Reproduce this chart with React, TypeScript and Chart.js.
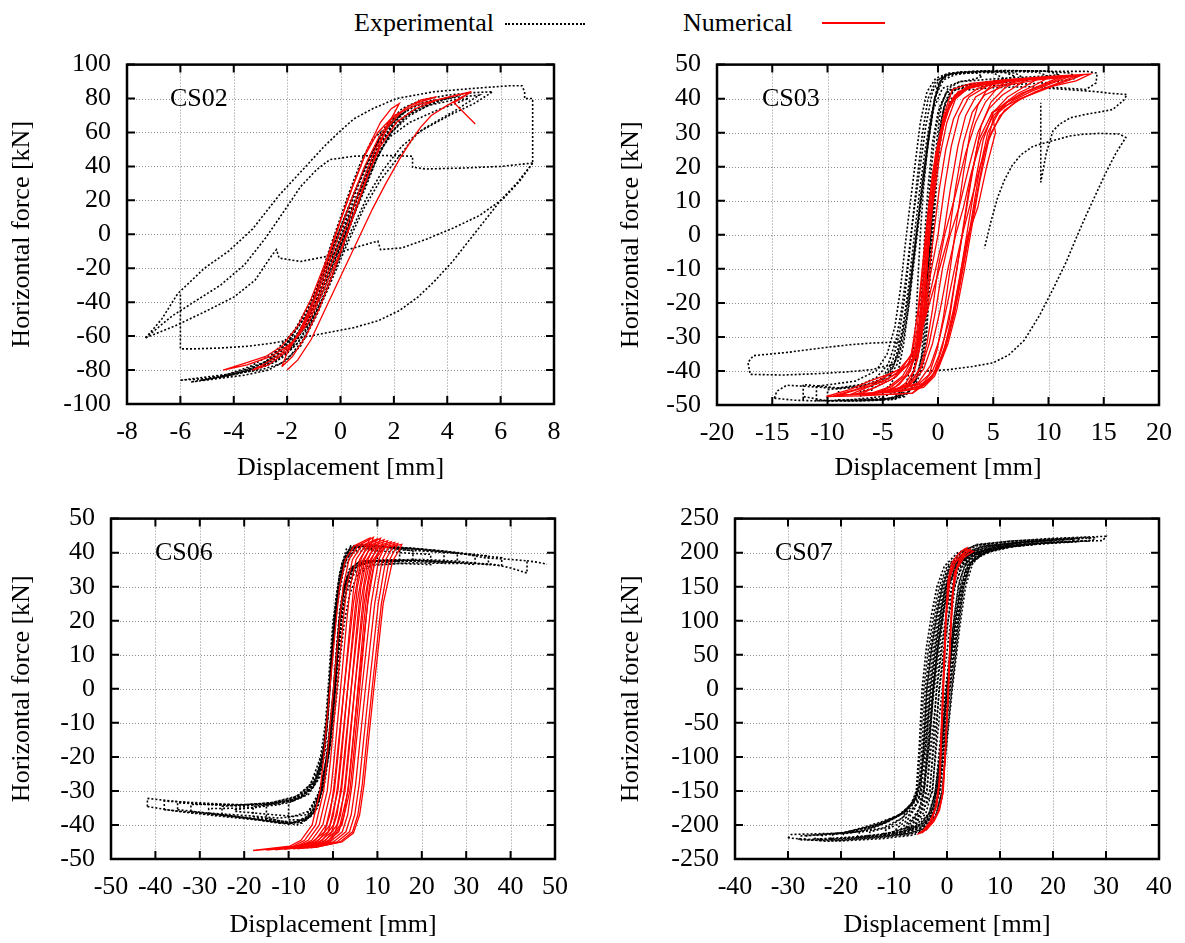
import React, { useEffect, useRef } from "react";
import { Chart, registerables } from "chart.js";
Chart.register(...registerables);

type Pt = [number, number];

const FONT = '"Liberation Serif", "Times New Roman", serif';

// ---------- tick labels ----------
const cs02XTicks = [-8, -6, -4, -2, 0, 2, 4, 6, 8];
const cs02YTicks = [-100, -80, -60, -40, -20, 0, 20, 40, 60, 80, 100];
const cs03XTicks = [-20, -15, -10, -5, 0, 5, 10, 15, 20];
const cs03YTicks = [-50, -40, -30, -20, -10, 0, 10, 20, 30, 40, 50];
const cs06XTicks = [-50, -40, -30, -20, -10, 0, 10, 20, 30, 40, 50];
const cs06YTicks = [-50, -40, -30, -20, -10, 0, 10, 20, 30, 40, 50];
const cs07XTicks = [-40, -30, -20, -10, 0, 10, 20, 30, 40];
const cs07YTicks = [-250, -200, -150, -100, -50, 0, 50, 100, 150, 200, 250];

// ---------- CS02 ----------
const cs02ExpA: Pt[] = [[-1.3,-55],[-1.0,-48],[-0.6,-36],[-0.2,-20],[0.2,-2],[0.6,16],[1.0,34],[1.3,50],[1.5,60],[1.2,56],[0.8,44],[0.4,28],[0,10],[-0.4,-8],[-0.8,-28],[-1.1,-44],[-1.3,-55]];
const cs02ExpB: Pt[] = [[-2.0,-70],[-1.6,-64],[-1.1,-52],[-0.6,-36],[-0.1,-16],[0.3,2],[0.7,20],[1.1,38],[1.5,54],[1.9,64],[2.4,72],[2.0,68],[1.5,58],[1.0,42],[0.5,24],[0,4],[-0.5,-16],[-0.9,-34],[-1.3,-50],[-1.7,-62],[-2.0,-70]];
const cs02ExpC: Pt[] = [[-3.0,-78],[-2.4,-74],[-1.8,-66],[-1.3,-54],[-0.8,-38],[-0.3,-18],[0.2,2],[0.6,20],[1.0,38],[1.5,56],[2.0,68],[2.7,75],[3.5,79],[3.0,77],[2.3,71],[1.7,62],[1.2,48],[0.7,30],[0.2,10],[-0.3,-10],[-0.8,-30],[-1.3,-48],[-1.9,-62],[-2.5,-72],[-3.0,-78]];
const cs02ExpD: Pt[] = [[-4.5,-84],[-3.8,-82],[-3.0,-78],[-2.3,-72],[-1.7,-62],[-1.1,-46],[-0.6,-28],[-0.1,-8],[0.4,12],[0.9,32],[1.4,50],[1.9,63],[2.6,72],[3.5,78],[4.5,82],[3.9,80],[3.1,76],[2.4,69],[1.8,58],[1.2,40],[0.7,20],[0.1,-2],[-0.5,-24],[-1.1,-46],[-1.8,-63],[-2.6,-74],[-3.5,-80],[-4.5,-84]];
const cs02ExpE: Pt[] = [[-6.0,-86],[-5.0,-84],[-4.0,-82],[-3.0,-80],[-2.2,-76],[-1.5,-66],[-0.9,-48],[-0.3,-26],[0.3,-4],[0.9,16],[1.5,32],[2.3,48],[2.9,60],[3.6,66],[4.2,71],[5.0,77],[5.7,84],[5.0,83.5],[4.0,82],[3.0,79],[2.3,74],[1.7,64],[1.1,46],[0.5,24],[-0.1,0],[-0.7,-24],[-1.3,-46],[-2.0,-64],[-2.8,-75],[-3.8,-81],[-5.0,-85],[-6.0,-86]];
const cs02ExpF: Pt[] = [[-5.2,-86],[-4.2,-83],[-3.2,-80],[-2.4,-75],[-1.8,-66],[-1.2,-50],[-0.7,-30],[-0.2,-10],[0.3,10],[0.8,28],[1.3,46],[1.9,58],[2.6,66],[3.6,73],[4.8,80],[4.2,79],[3.3,76],[2.5,70],[1.9,60],[1.4,46],[0.9,26],[0.3,4],[-0.3,-18],[-0.9,-40],[-1.6,-58],[-2.4,-72],[-3.3,-79],[-4.3,-84],[-5.2,-86]];
const cs02ExpG: Pt[] = [[-3.6,-81],[-2.9,-78],[-2.2,-73],[-1.6,-64],[-1.1,-50],[-0.6,-32],[-0.1,-12],[0.4,8],[0.9,28],[1.4,46],[1.9,60],[2.6,70],[3.3,76],[4.0,80],[3.5,78],[2.8,74],[2.1,66],[1.5,54],[1.0,36],[0.5,16],[-0.1,-6],[-0.7,-28],[-1.3,-48],[-2.0,-64],[-2.8,-75],[-3.6,-81]];
const cs02ExpH: Pt[] = [[-5.6,-87],[-4.6,-85],[-3.6,-83],[-2.7,-80],[-2.0,-74],[-1.4,-62],[-0.8,-42],[-0.2,-20],[0.4,2],[1.0,22],[1.6,38],[2.3,52],[3.1,62],[4.2,72],[5.2,82],[4.5,81],[3.5,79],[2.6,75],[2.0,66],[1.4,50],[0.8,30],[0.2,8],[-0.4,-14],[-1.0,-36],[-1.7,-56],[-2.5,-70],[-3.4,-78],[-4.5,-84],[-5.6,-87]];
const cs02ExpO1: Pt[] = [[-7.3,-61],[-6.7,-50],[-6.1,-35],[-5.1,-20],[-4.2,-10],[-3.3,3],[-2.3,23],[-1.3,40],[-0.6,52],[0,61],[0.5,68],[1.2,74],[2.1,80],[3.5,84],[5.0,86],[6.3,87.5],[6.8,87.5],[6.9,84],[6.9,80],[7.2,80],[7.2,42]];
const cs02ExpO2: Pt[] = [[7.2,42],[6.6,30],[6.0,20],[5.4,8],[4.8,-4],[4.2,-16],[3.5,-28],[2.9,-37],[2.2,-45],[1.4,-51],[0.5,-55],[-0.5,-58],[-1.5,-61],[-2.5,-64],[-3.5,-66],[-4.5,-67],[-5.5,-67.5],[-6.0,-67.5],[-6.0,-50],[-6.0,-35]];
const cs02ExpO3: Pt[] = [[-7.3,-61],[-6.2,-54],[-5.0,-45],[-4.0,-37],[-3.2,-27],[-2.6,-13],[-2.4,-9],[-2.3,-14],[-1.5,-16],[-0.5,-13],[0.5,-8],[1.4,-4],[1.5,-9],[2.3,-8],[3.2,-3],[4.2,3.5],[5.2,11],[6.1,21],[6.7,31],[7.2,42]];
const cs02ExpO4: Pt[] = [[7.2,42],[6.0,40],[4.5,39],[3.2,38.5],[2.7,39.5],[2.7,46],[1.5,46.5],[0.5,46],[-0.4,44],[-0.9,38],[-1.5,28],[-2.1,14],[-2.8,-2],[-3.6,-18],[-4.5,-30],[-5.5,-40],[-6.3,-48],[-7.3,-61]];
const cs02NumA: Pt[] = [[-2.2,-78],[-1.8,-72],[-1.3,-60],[-0.8,-44],[-0.3,-24],[0.2,-2],[0.7,20],[1.2,42],[1.6,58],[1.9,68],[2.2,77],[1.9,74],[1.5,66],[1.0,50],[0.5,30],[0,8],[-0.5,-16],[-1.0,-38],[-1.5,-56],[-2.0,-70],[-2.2,-78]];
const cs02NumB: Pt[] = [[-3.3,-80],[-2.7,-77],[-2.1,-70],[-1.6,-60],[-1.1,-44],[-0.6,-24],[-0.1,-2],[0.4,20],[0.9,40],[1.4,56],[1.9,68],[2.6,76],[3.6,81],[3.0,79],[2.4,74],[1.8,64],[1.3,50],[0.8,30],[0.3,8],[-0.3,-16],[-0.9,-40],[-1.5,-58],[-2.2,-70],[-2.8,-76],[-3.3,-80]];
const cs02NumC: Pt[] = [[-4.4,-80],[-3.6,-76],[-2.8,-72],[-2.2,-66],[-1.6,-54],[-1.1,-38],[-0.6,-18],[-0.1,4],[0.4,26],[0.9,46],[1.4,60],[2.0,70],[2.8,76],[3.8,80],[4.9,84],[4.4,82],[3.6,79],[2.8,74],[2.1,66],[1.5,52],[1.0,34],[0.5,12],[0,-10],[-0.6,-32],[-1.2,-52],[-1.8,-64],[-2.6,-72],[-3.5,-77],[-4.4,-80]];
const cs02NumD: Pt[] = [[-2.0,-80],[-1.6,-74],[-1.1,-62],[-0.6,-45],[0,-25],[0.6,-5],[1.2,15],[1.7,30],[2.2,44],[2.6,54],[3.0,63],[3.4,70],[4.0,76],[4.9,84],[4.6,81],[4.25,77.6],[5.05,65]];

// ---------- CS03 ----------
const cs03ExpA: Pt[] = [[-5,-48],[-4,-48.5],[-3,-47],[-2,-44],[-1.3,-38],[-1.0,-28],[-0.8,-15],[-0.6,0],[-0.4,15],[-0.1,28],[0.3,38],[0.9,43],[2,45],[3,45.5],[4,46.5],[3.5,47.5],[2,47.5],[0.8,47],[0.2,45],[-0.3,40],[-0.8,30],[-1.3,18],[-1.8,4],[-2.3,-10],[-2.7,-22],[-3.1,-32],[-3.6,-40],[-4.3,-44],[-5,-46],[-5,-48]];
const cs03ExpB: Pt[] = [[-7,-48.5],[-5.5,-48.5],[-4,-48],[-2.6,-46],[-1.6,-40],[-1.1,-30],[-0.8,-16],[-0.5,-2],[-0.2,12],[0.1,26],[0.5,37],[1.2,42.5],[3,44],[5,45],[7,46.5],[6,47.8],[4,48],[2,47.8],[0.7,47],[0,44],[-0.5,36],[-1.0,24],[-1.6,8],[-2.1,-6],[-2.6,-20],[-3.1,-30],[-3.7,-38],[-4.6,-43],[-5.8,-45],[-7,-46],[-7,-48.5]];
const cs03ExpC: Pt[] = [[-10,-48.8],[-8,-48.5],[-6,-48.3],[-4,-48],[-2.8,-46.5],[-1.9,-42],[-1.3,-33],[-1.0,-20],[-0.7,-6],[-0.4,8],[-0.1,22],[0.3,34],[0.9,41],[2,43.5],[4,44.2],[7,45],[10,46.5],[9,47.8],[6,48],[3,47.8],[1.2,47.3],[0.3,45.5],[-0.3,40],[-0.8,30],[-1.4,16],[-1.9,2],[-2.4,-12],[-2.9,-24],[-3.4,-33],[-4.1,-39],[-5.2,-43],[-7,-44.5],[-10,-45.5],[-10,-48.8]];
const cs03ExpD: Pt[] = [[-12.2,-48.5],[-12.2,-47.5],[-10,-48.8],[-7,-48.8],[-4.5,-48.5],[-3,-47.5],[-2.1,-44],[-1.5,-36],[-1.2,-24],[-0.9,-10],[-0.6,4],[-0.3,18],[0.1,30],[0.6,38.5],[1.5,42.5],[3,43.5],[6,44],[9,44.5],[11,45],[12.5,46],[12,47.5],[9,48.2],[5,48.2],[2,47.8],[0.5,46.8],[-0.1,43],[-0.6,34],[-1.1,22],[-1.6,8],[-2.2,-6],[-2.7,-18],[-3.3,-29],[-3.9,-37],[-4.8,-42],[-6.5,-44],[-9,-45],[-12.2,-44],[-12.2,-48.5]];
const cs03ExpE: Pt[] = [[-14.8,-48],[-14.6,-46],[-13.7,-44.2],[-12,-44.5],[-9,-45.2],[-6,-44.5],[-4.5,-42],[-3.7,-36],[-3.2,-28],[-2.7,-16],[-2.2,-2],[-1.7,12],[-1.2,24],[-0.7,34],[-0.2,41],[0.5,45.5],[1.5,47],[4,48],[8,48.2],[11,48],[13.5,48],[14.4,47.5],[14.3,44.6],[13.4,42.7],[11,43.2],[8,43.5],[5,43.2],[2.5,42.5],[1.2,40],[0.5,34],[0,22],[-0.4,8],[-0.8,-6],[-1.2,-20],[-1.6,-32],[-2.2,-41],[-3,-45.5],[-5,-47.5],[-8,-48.5],[-11,-48.8],[-13,-48.6],[-14.8,-48]];
const cs03ExpI: Pt[] = [[-9,-48.6],[-7,-48.7],[-5,-48.4],[-3.6,-47.4],[-2.6,-44],[-2.0,-37],[-1.6,-26],[-1.3,-12],[-1.0,2],[-0.7,16],[-0.3,29],[0.2,38],[0.9,42.5],[2.5,44],[5,44.6],[8,45.5],[7,47.5],[4,48],[1.5,47.6],[0.2,46.2],[-0.5,42],[-1.1,32],[-1.7,18],[-2.3,4],[-2.8,-10],[-3.3,-22],[-3.8,-31],[-4.5,-38],[-5.6,-42],[-7,-44],[-9,-45],[-9,-48.6]];
const cs03ExpJ: Pt[] = [[-11,-48.7],[-8,-48.8],[-5.5,-48.6],[-4,-47.8],[-3,-45],[-2.4,-38],[-2.0,-26],[-1.8,-12],[-1.6,0],[-1.3,14],[-0.9,27],[-0.4,37],[0.4,43],[2,45],[5,45.8],[9,46.5],[11,47],[10,48],[6,48.3],[3,48],[1,47.5],[-0.2,46],[-1,42],[-1.6,33],[-2.1,20],[-2.6,7],[-3.0,-4],[-3.4,-16],[-3.9,-27],[-4.6,-35],[-5.6,-40],[-7.5,-43],[-11,-44.5],[-11,-48.7]];
const cs03ExpK: Pt[] = [[-6,-48.4],[-4.5,-48.2],[-3.2,-46.8],[-2.3,-42],[-1.8,-32],[-1.5,-18],[-1.2,0],[-0.9,14],[-0.5,27],[0,36],[0.7,41.5],[2,43.8],[4,44.6],[6,45.8],[5,47.6],[3,47.8],[1,47.2],[-0.2,45.2],[-0.9,40],[-1.4,30],[-1.9,16],[-2.3,4],[-2.6,-6],[-3.0,-18],[-3.5,-29],[-4.1,-37],[-5,-42],[-6,-44.2],[-6,-48.4]];
const cs03ExpF: Pt[] = [[-3.5,-31.5],[-6,-31.8],[-8,-32.3],[-10.7,-33.3],[-13.5,-34.5],[-16.7,-35.5],[-17.2,-37.5],[-17,-41],[-14,-41.2],[-11,-40.8],[-8.3,-40.3],[-6,-39.6],[-4,-38]];
const cs03ExpG: Pt[] = [[-1,-40],[1,-39.6],[3.1,-38.7],[5,-37.6],[6.4,-35.3],[7.8,-31],[9.2,-23.6],[10.4,-16],[11.6,-8],[12.5,-1],[13.4,5.7],[14.3,12],[15.2,18.3],[16.1,24],[17,28.6],[16.4,29.6],[14.6,29.8],[13,29.5],[11.9,29],[10.2,27.5],[8.6,26],[7.5,23.5],[6.7,20.3],[6,16],[5.4,11],[4.8,4],[4.2,-4]];
const cs03ExpH: Pt[] = [[9.3,43.2],[12,42.6],[14.5,42],[15.5,41.6],[17.1,41.2],[16.8,39.5],[15.8,36.8],[14.5,36],[13.4,35.4],[12,34.4],[11,32.5],[10.4,30.5],[9.8,24],[9.3,15.4],[9.3,28],[9.3,38.8]];
const cs03NumA: Pt[] = [[-3,-45],[-2.4,-42],[-1.8,-36],[-1.3,-22],[-0.9,-6],[-0.5,10],[0,24],[0.6,34],[1.4,40],[2.6,43],[4,44],[5,44.5],[4.4,42.5],[3.6,38],[2.9,30],[2.3,18],[1.7,4],[1.1,-10],[0.5,-24],[-0.1,-34],[-0.8,-41],[-1.8,-44],[-3,-45]];
const cs03NumB: Pt[] = [[-4.5,-46],[-3.5,-44],[-2.5,-40],[-1.8,-32],[-1.3,-18],[-0.9,-2],[-0.4,14],[0.2,28],[0.9,37],[1.8,42],[3.5,44],[5.5,44.8],[7,45.2],[6,43],[4.8,39],[3.9,32],[3.2,20],[2.5,6],[1.8,-8],[1.1,-22],[0.4,-33],[-0.4,-41],[-1.6,-44.5],[-3,-45.5],[-4.5,-46]];
const cs03NumC: Pt[] = [[-6,-46.5],[-4.5,-44.8],[-3.2,-41.5],[-2.3,-36.5],[-1.7,-26],[-1.2,-10],[-0.7,6],[-0.2,20],[0.5,32],[1.3,40],[2.6,43.5],[5,45],[7,45.5],[9,45.8],[7.8,43.5],[6.3,40.5],[5.0,36],[4.1,28],[3.4,16],[2.7,2],[2.0,-12],[1.3,-25],[0.5,-35],[-0.3,-41.5],[-1.3,-44.8],[-3,-45.8],[-6,-46.5]];
const cs03NumD: Pt[] = [[-8,-47],[-6.2,-44.5],[-4.5,-42.2],[-2.9,-38.7],[-2,-35.8],[-1.5,-24],[-1.0,-8],[-0.5,8],[0.1,22],[0.8,33],[1.6,40],[3,43.8],[6,45.2],[9,46],[11,46.3],[9.5,44.2],[7.5,41.5],[5.8,38],[4.9,35.9],[5.2,30],[4.4,20],[3.6,8],[2.7,-0.2],[2.1,-10],[1.4,-22],[0.6,-33],[-0.2,-40],[-1.2,-44],[-2.3,-46.5],[-4,-46.8],[-8,-47]];
const cs03NumE: Pt[] = [[-9,-47.2],[-7,-45.2],[-5,-43.2],[-3.4,-40],[-2.4,-35],[-1.8,-22],[-1.3,-6],[-0.8,10],[-0.2,24],[0.6,35],[1.5,41],[3,44],[6,45.5],[9.5,46.2],[12.5,46.7],[10.8,44.5],[8.8,42],[7,39],[5.6,35],[4.6,28],[3.8,16],[3.1,3],[2.4,-10],[1.7,-22],[0.9,-32],[0,-39.5],[-1,-43.5],[-3.5,-45],[-6,-46.5],[-9,-47.2]];
const cs03NumF: Pt[] = [[-10.1,-47.5],[-8,-45.5],[-6.2,-43],[-4.5,-41],[-2.9,-38.7],[-2,-35.8],[-1.2,-20],[-0.8,0],[-0.3,20],[0.5,35],[1.3,42.7],[3,44.5],[6,45.5],[10,46.5],[13.8,47.2],[12.5,45.2],[10.4,43.7],[7.3,39.8],[4.9,35.9],[3.7,28],[2.8,13.5],[1.9,-6],[1,-25.5],[0.1,-35.3],[-0.5,-40],[-1.2,-43],[-2.3,-46.5],[-4,-46.8],[-7,-47.3],[-10.1,-47.5]];
const cs03NumG: Pt[] = [[-7,-46.8],[-5.5,-44.5],[-3.8,-41.8],[-2.6,-37.5],[-1.9,-28],[-1.5,-14],[-1.0,2],[-0.5,18],[0.2,30],[1.0,38.5],[2.2,42.5],[5,44.8],[8,45.8],[10,46.2],[8.8,44],[7.2,41.5],[6,38.5],[5,34],[4.2,24],[3.4,10],[2.6,-4],[1.8,-18],[1.0,-29],[0.2,-37],[-0.6,-42],[-1.8,-45.2],[-4,-46.2],[-7,-46.8]];
const cs03NumH: Pt[] = [[-5,-46.2],[-3.8,-44.5],[-2.7,-41],[-2,-34],[-1.5,-20],[-1.1,-4],[-0.6,12],[0,26],[0.8,36],[1.8,41.5],[3.5,44],[7,45.5],[12,46.6],[10.5,44.8],[8.5,42.2],[6.8,39.5],[5.5,36],[4.5,30],[3.7,18],[3.0,4],[2.2,-10],[1.5,-23],[0.7,-33],[-0.2,-40],[-1.3,-44],[-3,-45.6],[-5,-46.2]];
const cs03NumI: Pt[] = [[-5.5,-46.4],[-4.2,-44.6],[-3.0,-41.5],[-2.0,-36],[-1.3,-26],[-0.7,-12],[0,0],[0.6,14],[1.2,26],[1.9,35],[2.8,40.5],[4.5,43.8],[6.5,45.2],[8,45.6],[7,43.5],[5.8,41],[4.6,37],[3.6,30],[2.8,20],[1.9,8],[1.1,0],[0.4,-10],[-0.2,-22],[-0.8,-32],[-1.5,-39],[-2.5,-43.5],[-4,-45.6],[-5.5,-46.4]];
const cs03NumJ: Pt[] = [[-7.5,-46.9],[-5.8,-45],[-4.2,-42.5],[-2.8,-38.5],[-1.6,-30],[-0.5,-14],[0.5,0],[1.1,13],[1.8,26],[2.5,35],[3.4,40.5],[5,43.5],[8,45.5],[11.5,46.5],[10,44.5],[8,42],[6.3,39],[5,35],[3.9,28],[3.0,18],[2.3,8],[1.6,0],[0.9,-10],[0.2,-22],[-0.5,-32],[-1.3,-39.5],[-2.5,-44],[-4.5,-46],[-7.5,-46.9]];
const cs03NumK: Pt[] = [[-3.8,-45.6],[-2.9,-43.5],[-2.1,-39.5],[-1.5,-31],[-1.0,-16],[-0.4,0],[0.1,13],[0.7,25],[1.4,34],[2.3,40],[3.6,43],[5,44.3],[6,44.8],[5.2,42.5],[4.3,39],[3.4,33],[2.5,24],[1.6,12],[0.6,0],[0,-10],[-0.5,-22],[-1.0,-32],[-1.6,-39],[-2.5,-43.5],[-3.8,-45.6]];
const cs03NumL: Pt[] = [[-9.5,-47.3],[-7.5,-45.5],[-5.5,-43],[-3.5,-39.5],[-2,-34],[-0.4,-16],[1.0,0],[1.6,14],[2.3,27],[3.1,36],[4.2,41],[6,43.8],[9,45.5],[13,46.8],[11.5,45],[9.5,42.8],[7.5,40],[6,36.5],[4.8,30],[3.8,20],[3.0,10],[2.2,0],[1.5,-10],[0.8,-21],[0.1,-31],[-0.7,-38.5],[-1.8,-43.5],[-4,-46],[-9.5,-47.3]];

// ---------- CS06 ----------
const cs06ExpA: Pt[] = [[-10,-38.5],[-6,-38.5],[-3.5,-35],[-1.8,-27],[-0.6,-16],[0.3,-4],[0.9,8],[1.5,20],[2.4,29],[3.8,35],[6,37.5],[10,37.5],[10,40],[7,41.8],[4,41.5],[2,37],[0.7,27],[-0.2,14],[-0.8,2],[-1.3,-10],[-2,-20],[-3.5,-27],[-6,-31],[-10,-33],[-10,-38.5]];
const cs06ExpB: Pt[] = [[-18,-37.5],[-12,-38.8],[-7,-39.5],[-4,-36],[-2,-28],[-0.8,-17],[0.2,-4],[0.8,8],[1.4,20],[2.3,29],[3.6,35],[6,37.5],[12,37.8],[18,37.5],[18,40.5],[12,41.8],[6,42],[3,40],[1.4,33],[0.2,20],[-0.5,7],[-1.1,-6],[-1.8,-18],[-3,-26],[-5.5,-31],[-10,-33.5],[-18,-34.5],[-18,-37.5]];
const cs06ExpC: Pt[] = [[-25,-37],[-18,-38.2],[-10,-39.5],[-6,-38.5],[-3.2,-33],[-1.6,-24],[-0.6,-12],[0.2,0],[0.8,12],[1.5,23],[2.6,31],[4.5,36],[8,37.5],[15,37.8],[25,37],[25,40],[18,41],[10,41.8],[5,41.5],[2.6,37],[1.2,28],[0.1,15],[-0.6,3],[-1.3,-10],[-2.3,-20],[-4,-27],[-7,-31.5],[-14,-33.5],[-25,-34.5],[-25,-37]];
const cs06ExpD: Pt[] = [[-32,-36],[-22,-37.5],[-12,-39.5],[-7,-39],[-4,-35],[-2,-27],[-0.8,-15],[0.1,-2],[0.8,10],[1.6,22],[2.8,31],[4.8,36],[9,37.5],[18,37.8],[26,37.2],[32,36.5],[32,39.2],[25,40.5],[15,41.5],[7,42],[3.5,40.5],[1.8,33],[0.5,20],[-0.4,6],[-1.1,-8],[-2,-19],[-3.6,-27],[-7,-32],[-15,-34],[-32,-34],[-32,-36]];
const cs06ExpE: Pt[] = [[-38,-35.5],[-28,-36.8],[-18,-38.2],[-10,-39.8],[-6,-38],[-3.5,-32],[-1.8,-23],[-0.7,-11],[0.2,1],[0.9,13],[1.8,25],[3.2,33],[5.5,37],[12,37.6],[22,37.6],[30,37],[38,36.2],[38,38.5],[30,39.6],[20,41],[10,41.8],[5,42],[2.5,38],[1.1,28],[0,14],[-0.7,2],[-1.4,-10],[-2.4,-21],[-4.5,-29],[-9,-33],[-20,-34.2],[-30,-33.5],[-38,-33],[-38,-35.5]];
const cs06ExpF: Pt[] = [[-41.8,-34.6],[-35,-36],[-25,-37.5],[-15,-38.8],[-9,-39.5],[-5,-37],[-2.8,-30],[-1.3,-19],[-0.3,-6],[0.6,7],[1.4,19],[2.5,29],[4.2,35],[7.5,37],[20,37.6],[30,37],[36,36.6],[40,35.5],[43.7,34],[43.7,37.6],[40,38],[34,38.5],[30,39.5],[25,40.3],[20,41],[12,41.8],[6,42.3],[3,41],[1.5,34],[0.3,20],[-0.5,6],[-1.2,-7],[-2.2,-19],[-4,-27],[-8,-31.5],[-14,-33.5],[-22,-34.3],[-30,-33.8],[-36,-33],[-41.8,-32.2],[-41.8,-34.6]];
const cs06ExpG: Pt[] = [[-15,-38],[-9,-39.5],[-5,-37.5],[-2.8,-31],[-1.2,-20],[0,-6],[0.9,8],[1.8,20],[2.9,29],[4.5,35],[7,37.5],[15,37.5],[15,41],[8,42.3],[4,42],[2.2,37],[1,27],[0,13],[-0.6,2],[-1.4,-12],[-2.6,-23],[-4.5,-29],[-8,-32.5],[-15,-34],[-15,-38]];
const cs06ExpH: Pt[] = [[-35,-35.5],[-25,-37],[-15,-38.5],[-8,-40],[-4.5,-37],[-2.3,-29],[-0.9,-17],[0.2,-3],[1.1,10],[2,22],[3.3,31],[5.5,36],[10,37.8],[20,38],[28,37.5],[35,36.5],[35,39],[28,40],[18,41.3],[9,42],[4.5,41.8],[2.2,36],[0.8,25],[-0.2,11],[-0.9,-2],[-1.7,-15],[-3,-24],[-5.5,-30],[-10,-33],[-20,-34.5],[-35,-33.5],[-35,-35.5]];
const cs06ExpI: Pt[] = [[-28,-36.5],[-20,-37.2],[-12,-38],[-6,-37],[-3,-31],[-1,-20],[0.3,-8],[1.0,0],[1.7,10],[2.6,20],[3.8,28],[5.5,33.5],[9,36.5],[18,37],[28,36.8],[28,39.8],[20,40.5],[12,41],[6,41.2],[3.2,39],[1.4,32],[0,20],[-0.6,10],[-1.1,0],[-1.7,-10],[-2.8,-20],[-5,-28],[-9,-32.5],[-18,-35],[-28,-35.2],[-28,-36.5]];
const cs06ExpJ: Pt[] = [[-22,-36],[-15,-36.8],[-9,-37.5],[-5.5,-36],[-3,-30],[-1.4,-20],[-0.2,-8],[0.6,0],[1.3,10],[2.0,20],[3.0,28],[4.8,34],[8,36.2],[15,36.8],[22,36.5],[22,39.5],[15,40],[8,40.8],[4.5,40],[2.4,35],[1.0,25],[0,12],[-0.7,2],[-1.2,-6],[-2.0,-16],[-3.4,-24],[-6,-30],[-12,-34],[-22,-35.5],[-22,-36]];
const cs06ExpTail: Pt[] = [[43.7,37.6],[46,37.2],[48.2,36.6]];
const cs06Num1: Pt[] = [[-18,-47.5],[-9.7,-46.2],[-7.2,-44.5],[-4.7,-40],[-2.9,-30],[-2.1,-20],[-0.7,0],[0.7,20],[1.5,30],[2.8,38],[4.8,42],[8.3,44.3],[7.8,42.5],[6.3,38],[4.6,25],[2.5,0],[1.3,-15],[0.3,-28],[-0.7,-37],[-1.9,-42],[-4.7,-45],[-9.7,-46.6],[-18,-47.5]];
const cs06Num2: Pt[] = [[-15,-47.4],[-8.9,-46.2],[-6.4,-44.5],[-3.9,-40],[-2.1,-30],[-1.3,-20],[0.1,0],[1.5,20],[2.3,30],[3.6,38],[5.6,42],[9.1,44.5],[8.6,42.5],[7.1,38],[5.4,25],[3.3,0],[2.1,-15],[1.1,-28],[0.1,-37],[-1.1,-42],[-3.9,-45],[-8.9,-46.6],[-15,-47.4]];
const cs06Num3: Pt[] = [[-13,-47.3],[-8.1,-46.2],[-5.6,-44.5],[-3.1,-40],[-1.3,-30],[-0.5,-20],[0.9,0],[2.3,20],[3.1,30],[4.4,38],[6.4,42],[9.9,44],[9.4,42.5],[7.9,38],[6.2,25],[4.1,0],[2.9,-15],[1.9,-28],[0.9,-37],[-0.3,-42],[-3.1,-45],[-8.1,-46.6],[-13,-47.3]];
const cs06Num4: Pt[] = [[-11,-47.2],[-7.3,-46.2],[-4.8,-44.5],[-2.3,-40],[-0.5,-30],[0.3,-20],[1.7,0],[3.1,20],[3.9,30],[5.2,38],[7.2,42],[10.7,44.2],[10.2,42.5],[8.7,38],[7.0,25],[4.9,0],[3.7,-15],[2.7,-28],[1.7,-37],[0.5,-42],[-2.3,-45],[-7.3,-46.6],[-11,-47.2]];
const cs06Num5: Pt[] = [[-9,-47],[-6.5,-46.2],[-4.0,-44.5],[-1.5,-40],[0.3,-30],[1.1,-20],[2.5,0],[3.9,20],[4.7,30],[6.0,38],[8.0,42],[11.5,43.8],[11.0,42.3],[9.5,38],[7.8,25],[5.7,0],[4.5,-15],[3.5,-28],[2.5,-37],[1.3,-42],[-1.5,-45],[-6.5,-46.6],[-9,-47]];
const cs06Num6: Pt[] = [[-8,-47],[-5.7,-46.2],[-3.2,-44.5],[-0.7,-40],[1.1,-30],[1.9,-20],[3.3,0],[4.7,20],[5.5,30],[6.8,38],[8.8,42],[12.3,43.5],[11.8,42],[10.3,38],[8.6,25],[6.5,0],[5.3,-15],[4.3,-28],[3.3,-37],[2.1,-42],[-0.7,-45],[-5.7,-46.6],[-8,-47]];
const cs06Num7: Pt[] = [[-7,-46.9],[-4.9,-46.2],[-2.4,-44.5],[0.1,-40],[1.9,-30],[2.7,-20],[4.1,0],[5.5,20],[6.3,30],[7.6,38],[9.6,41.8],[13.1,43.2],[12.6,41.8],[11.1,38],[9.4,25],[7.3,0],[6.1,-15],[5.1,-28],[4.1,-37],[2.9,-42],[0.1,-45],[-4.9,-46.5],[-7,-46.9]];
const cs06Num8: Pt[] = [[-6,-46.8],[-4.1,-46.2],[-1.6,-44.5],[0.9,-40],[2.7,-30],[3.5,-20],[4.9,0],[6.3,20],[7.1,30],[8.4,38],[10.4,41.8],[13.9,43],[13.4,41.6],[11.9,38],[10.2,25],[8.1,0],[6.9,-15],[5.9,-28],[4.9,-37],[3.7,-42],[0.9,-45],[-4.1,-46.5],[-6,-46.8]];
const cs06Num9: Pt[] = [[-5,-46.7],[-3.4,-46.2],[-0.9,-44.5],[1.6,-40],[3.4,-30],[4.2,-20],[5.6,0],[7.0,20],[7.8,30],[9.1,38],[11.1,41.5],[14.6,42.7],[14.1,41.3],[12.6,37.5],[10.9,25],[8.8,0],[7.6,-15],[6.6,-28],[5.6,-37],[4.4,-42],[1.6,-45],[-3.4,-46.4],[-5,-46.7]];
const cs06Num10: Pt[] = [[-4,-46.6],[-3,-46.2],[-0.5,-44.5],[2.0,-40],[3.8,-30],[4.6,-20],[6.0,0],[7.4,20],[8.2,30],[9.5,38],[11.5,41.4],[15.5,42.4],[15.0,41],[13.4,37.5],[11.3,25],[9.2,0],[8.0,-15],[7.0,-28],[6.0,-37],[4.6,-42.4],[2.0,-45],[-3,-46.3],[-4,-46.6]];

// ---------- CS07 ----------
const cs07ExpA: Pt[] = [[-6,-205],[-5.6,-195],[-4.8,-175],[-4.2,-140],[-3.6,-80],[-3.0,-20],[-2.4,30],[-1.5,90],[-0.5,140],[0.8,170],[2.5,188],[4.2,197],[5,200],[4.6,194],[3.5,182],[2.4,160],[1.4,110],[0.5,40],[-0.4,-30],[-1.3,-100],[-2.3,-155],[-3.3,-182],[-4.8,-198],[-6,-205]];
const cs07ExpM: Pt[] = [[-7,-208],[-6.5,-198],[-5,-182],[-3.6,-165],[-2.7,-150],[-2.1,-80],[-1.5,0],[-0.6,60],[0.4,110],[1.4,150],[2.9,180],[5.0,195],[6.5,201],[6,197],[4.5,190],[3.3,180],[2.1,150],[1.0,80],[-0.3,0],[-1.2,-70],[-2.2,-150],[-3.4,-183],[-5.3,-200],[-7,-208]];
const cs07ExpJ: Pt[] = [[-8,-210],[-7.6,-201],[-6,-188],[-5,-170],[-4.2,-140],[-3.4,-80],[-2.8,-20],[-2,40],[-1.1,100],[0,150],[1.8,182],[4,196],[8,205],[7.6,200],[5.5,194],[3.9,182],[2.6,155],[1.5,100],[0.5,30],[-0.5,-50],[-1.5,-130],[-2.6,-175],[-4.2,-196],[-6,-205],[-8,-210]];
const cs07ExpK: Pt[] = [[-9,-212],[-8.5,-204],[-6.5,-190],[-4.6,-170],[-3.2,-150],[-2.6,-80],[-2.0,0],[-1.1,60],[-0.1,110],[0.9,150],[2.4,180],[5,198],[9,207],[8.5,203],[5.1,196],[2.7,180],[1.5,150],[0.4,80],[-0.9,0],[-1.8,-70],[-2.8,-150],[-4.0,-183],[-5.9,-202],[-9,-212]];
const cs07ExpB: Pt[] = [[-10,-213],[-9.5,-205],[-7.5,-193],[-6,-175],[-5,-152],[-4.3,-110],[-3.8,-50],[-3.2,0],[-2.3,60],[-1.3,110],[-0.3,150],[1.3,180],[4,198],[7,205],[10,210],[9.5,205],[7,200],[5,190],[3.6,172],[2.4,140],[1.1,70],[-0.2,0],[-1.1,-70],[-2.1,-150],[-3.3,-183],[-5.3,-200],[-8,-208],[-10,-213]];
const cs07ExpG: Pt[] = [[-12,-214],[-11.5,-207],[-9,-198],[-7,-184],[-5.5,-165],[-4.4,-140],[-3.4,-80],[-2.6,0],[-1.8,60],[-0.8,110],[0.2,150],[1.8,180],[4.5,198],[8,206],[12,211],[11.5,207],[8.5,202],[6,194],[4.2,178],[3,150],[1.8,80],[0.6,0],[-0.4,-70],[-1.4,-150],[-2.6,-183],[-4.5,-202],[-8,-209],[-12,-214]];
const cs07ExpC: Pt[] = [[-15,-217],[-14.5,-210],[-11,-203],[-8.5,-190],[-6.6,-172],[-5.4,-150],[-4.7,-120],[-4.1,-60],[-3.5,0],[-2.6,60],[-1.6,110],[-0.6,150],[0.9,180],[3.4,198],[7,207],[11,212],[15,216],[14.5,211],[10.5,207],[7.5,201],[5.2,192],[3.6,175],[2.5,145],[1.3,80],[0,0],[-0.9,-70],[-1.9,-150],[-3.1,-185],[-5.0,-204],[-8,-211],[-12,-215],[-15,-217]];
const cs07ExpL: Pt[] = [[-17,-218],[-16.5,-211],[-12,-204],[-8.5,-190],[-6,-172],[-3.8,-150],[-3.2,-80],[-2.6,0],[-1.7,60],[-0.7,110],[0.3,150],[1.8,180],[4.4,198],[9,208],[17,216],[16.5,212],[10,207],[6,200],[4.6,196],[2.2,180],[1.0,150],[-0.1,80],[-1.4,0],[-2.3,-70],[-3.3,-150],[-4.5,-183],[-6.4,-202],[-11,-212],[-17,-218]];
const cs07ExpD: Pt[] = [[-20,-220],[-19.5,-213],[-15,-208],[-11,-195],[-7.8,-180],[-5.8,-160],[-5.0,-140],[-4.4,-80],[-3.8,0],[-2.9,60],[-1.9,110],[-0.9,150],[0.6,180],[3,198],[6.5,209],[12,214],[20,219],[19.5,214],[14,211],[10,206],[6.5,198],[4,182],[2.7,150],[1.6,90],[0.2,0],[-0.7,-70],[-1.7,-150],[-2.9,-185],[-4.8,-205],[-8,-212],[-14,-217],[-20,-220]];
const cs07ExpH: Pt[] = [[-22,-221],[-21.5,-214],[-16,-209],[-11.5,-196],[-8.3,-182],[-6.4,-165],[-5.2,-140],[-4.0,-80],[-3.0,0],[-2.1,60],[-1.2,110],[-0.2,150],[1.2,180],[3.6,199],[7,209],[14,215],[22,220],[21.5,215],[15,212],[10,207],[6.8,199],[4.4,184],[3.2,150],[2.2,90],[0.9,0],[0,-70],[-0.9,-150],[-2.1,-185],[-4,-205],[-7,-212],[-13,-217],[-22,-221]];
const cs07ExpN: Pt[] = [[-24,-222],[-23.5,-215],[-17,-210],[-12,-198],[-8.5,-184],[-6,-166],[-4.4,-150],[-3.8,-80],[-3.2,0],[-2.3,60],[-1.3,110],[-0.3,150],[1.2,180],[3.8,199],[8,209],[15,215],[24,220],[23.5,216],[16,213],[10,208],[6.5,201],[4.3,194],[1.7,180],[0.5,150],[-0.6,80],[-1.9,0],[-2.8,-70],[-3.8,-150],[-5.0,-183],[-6.9,-203],[-12,-214],[-24,-222]];
const cs07ExpE: Pt[] = [[-25,-221],[-24.5,-215],[-18,-210],[-12,-196],[-8,-181],[-6,-162],[-5.3,-145],[-4.7,-80],[-4.1,0],[-3.2,60],[-2.2,110],[-1.2,150],[0.3,180],[2.8,200],[6,211],[12,216],[18,219],[25,221],[24.5,216],[18,213],[11.5,208],[7,200],[4.2,183],[2.9,150],[1.8,90],[0.4,0],[-0.5,-70],[-1.5,-150],[-2.7,-185],[-4.6,-206],[-7.5,-213],[-13,-218],[-20,-222],[-25,-221]];
const cs07ExpI: Pt[] = [[-27,-222],[-26.5,-216],[-20,-212],[-14,-202],[-9.5,-188],[-6.8,-170],[-5.8,-150],[-5.2,-80],[-4.7,0],[-3.9,60],[-2.9,110],[-1.9,150],[-0.5,180],[2,200],[5.5,211],[12,217],[20,220],[27,222.5],[26.5,217],[20,215],[13,211],[8,203],[5,188],[3.5,150],[2.4,90],[1.0,0],[0.1,-70],[-0.9,-150],[-2.0,-185],[-3.9,-207],[-6.5,-215],[-12,-220],[-20,-223.5],[-27,-222]];
const cs07ExpO: Pt[] = [[-28,-222],[-27.5,-216],[-20,-212],[-13,-200],[-9,-186],[-6.5,-168],[-5.0,-150],[-4.4,-80],[-3.8,0],[-2.9,60],[-1.9,110],[-0.9,150],[0.6,180],[3.2,199],[7,210],[15,216],[28,222],[27.5,218],[18,215],[11,210],[7,203],[4.5,195],[1.2,180],[0,150],[-1.1,80],[-2.4,0],[-3.3,-70],[-4.3,-150],[-5.5,-183],[-7.5,-204],[-13,-216],[-28,-222]];
const cs07ExpF: Pt[] = [[-30,-219],[-29.4,-214],[-19.4,-211.8],[-13,-197],[-8.1,-183],[-6.2,-165],[-5.6,-150],[-5.0,-80],[-4.4,0],[-3.5,60],[-2.5,110],[-1.5,150],[0,180],[2.5,200],[5.6,212],[12,217],[20,221],[30,224],[29.4,217.7],[24.4,216.7],[18,214],[11.9,209.4],[7.5,202],[4.5,185],[3.1,150],[2,90],[0.6,0],[-0.3,-70],[-1.25,-150],[-2.5,-185],[-4.4,-207],[-7,-214],[-13,-219],[-22.5,-224],[-30,-219]];
const cs07NumA: Pt[] = [[-5.6,-214],[-4.2,-207],[-3,-198],[-1.8,-183],[-0.9,-160],[-0.4,-100],[0.1,-20],[0.5,60],[0.9,130],[1.4,170],[2.4,190],[3.75,207],[3.2,205],[2.0,197],[0.9,185],[0.2,160],[-0.3,100],[-0.7,20],[-1.1,-60],[-1.5,-140],[-2.2,-175],[-3.2,-195],[-4.5,-208],[-5.6,-214]];
const cs07NumB: Pt[] = [[-4.8,-212],[-3.6,-205],[-2.4,-194],[-1.4,-178],[-0.7,-150],[-0.2,-80],[0.3,0],[0.7,80],[1.2,145],[1.9,176],[3.2,193],[5,202],[4.4,203],[3,196],[1.6,186],[0.6,165],[-0.1,110],[-0.5,30],[-0.9,-50],[-1.3,-130],[-1.9,-170],[-2.9,-193],[-4,-206],[-4.8,-212]];
const cs07NumC: Pt[] = [[-5.2,-213],[-3.9,-206],[-2.7,-196],[-1.6,-180],[-0.8,-155],[-0.3,-90],[0.2,-10],[0.6,70],[1.0,135],[1.6,173],[2.8,192],[4.3,205],[3.8,204],[2.5,196],[1.2,185],[0.4,162],[-0.2,105],[-0.6,25],[-1.0,-55],[-1.4,-135],[-2.0,-172],[-3.0,-194],[-4.2,-207],[-5.2,-213]];

// ---------- panel layout ----------
const panels = [
  { name: "CS02", xTicks: cs02XTicks, yTicks: cs02YTicks,
    exp: [cs02ExpA, cs02ExpB, cs02ExpC, cs02ExpD, cs02ExpE, cs02ExpF, cs02ExpG, cs02ExpH, cs02ExpO1, cs02ExpO2, cs02ExpO3, cs02ExpO4],
    num: [cs02NumA, cs02NumB, cs02NumC, cs02NumD],
    left: 0, top: 33, w: 592, h: 457, padTop: 30, padRight: 38, yW: 127, xH: 86, yTitlePad: 7, xTitlePad: 6, labelDx: 43 },
  { name: "CS03", xTicks: cs03XTicks, yTicks: cs03YTicks,
    exp: [cs03ExpA, cs03ExpB, cs03ExpC, cs03ExpD, cs03ExpE, cs03ExpI, cs03ExpJ, cs03ExpK, cs03ExpF, cs03ExpG, cs03ExpH],
    num: [cs03NumA, cs03NumB, cs03NumC, cs03NumD, cs03NumE, cs03NumF, cs03NumG, cs03NumH, cs03NumI, cs03NumJ, cs03NumK, cs03NumL],
    left: 592, top: 33, w: 593, h: 457, padTop: 30, padRight: 26, yW: 125, xH: 85, yTitlePad: 24, xTitlePad: 6, labelDx: 45 },
  { name: "CS06", xTicks: cs06XTicks, yTicks: cs06YTicks,
    exp: [cs06ExpA, cs06ExpB, cs06ExpC, cs06ExpD, cs06ExpE, cs06ExpF, cs06ExpG, cs06ExpH, cs06ExpI, cs06ExpJ, cs06ExpTail],
    num: [cs06Num1, cs06Num2, cs06Num3, cs06Num4, cs06Num5, cs06Num6, cs06Num7, cs06Num8, cs06Num9, cs06Num10],
    left: 0, top: 487, w: 592, h: 456, padTop: 30, padRight: 37, yW: 111, xH: 84, yTitlePad: 7, xTitlePad: 2, labelDx: 44 },
  { name: "CS07", xTicks: cs07XTicks, yTicks: cs07YTicks,
    exp: [cs07ExpA, cs07ExpM, cs07ExpJ, cs07ExpK, cs07ExpB, cs07ExpG, cs07ExpC, cs07ExpL, cs07ExpD, cs07ExpH, cs07ExpN, cs07ExpE, cs07ExpI, cs07ExpO, cs07ExpF],
    num: [cs07NumA, cs07NumB, cs07NumC],
    left: 592, top: 487, w: 593, h: 456, padTop: 30, padRight: 26, yW: 143, xH: 84, yTitlePad: 24, xTitlePad: 2, labelDx: 40 },
];

const framePlugin = {
  id: "frame",
  beforeDatasetsDraw(chart: any) {
    const { ctx, chartArea: a, scales } = chart;
    ctx.save();
    ctx.strokeStyle = "#8c8c8c";
    ctx.lineWidth = 1;
    ctx.setLineDash([1, 2]);
    ctx.beginPath();
    for (const t of scales.x.ticks) {
      const p = Math.round(scales.x.getPixelForValue(t.value)) + 0.5;
      ctx.moveTo(p, a.top); ctx.lineTo(p, a.bottom);
    }
    for (const t of scales.y.ticks) {
      const p = Math.round(scales.y.getPixelForValue(t.value)) + 0.5;
      ctx.moveTo(a.left, p); ctx.lineTo(a.right, p);
    }
    ctx.stroke();
    ctx.restore();
  },
  afterDatasetsDraw(chart: any, _args: any, opts: any) {
    const { ctx, chartArea: a, scales } = chart;
    ctx.save();
    ctx.setLineDash([]);
    ctx.strokeStyle = "#000";
    ctx.lineWidth = 2;
    const L = 8;
    ctx.beginPath();
    for (const t of scales.x.ticks) {
      const p = scales.x.getPixelForValue(t.value);
      ctx.moveTo(p, a.bottom); ctx.lineTo(p, a.bottom - L);
      ctx.moveTo(p, a.top); ctx.lineTo(p, a.top + L);
    }
    for (const t of scales.y.ticks) {
      const p = scales.y.getPixelForValue(t.value);
      ctx.moveTo(a.left, p); ctx.lineTo(a.left + L, p);
      ctx.moveTo(a.right, p); ctx.lineTo(a.right - L, p);
    }
    ctx.stroke();
    ctx.lineWidth = 2.5;
    ctx.strokeRect(a.left, a.top, a.right - a.left, a.bottom - a.top);
    ctx.fillStyle = "#000";
    ctx.font = `26px ${FONT}`;
    ctx.textBaseline = "middle";
    ctx.textAlign = "left";
    ctx.fillText(opts.label, a.left + opts.labelDx, a.top + 35);
    ctx.restore();
  },
};

function Panel({ p }: { p: any }) {
  const ref = useRef<HTMLCanvasElement>(null);
  useEffect(() => {
    const font = { family: FONT, size: 26 };
    const toXY = (d: Pt[]) => d.map(([x, y]) => ({ x, y }));
    const datasets = [
      ...p.num.map((d: Pt[]) => ({
        data: toXY(d), showLine: true, borderColor: "#ff0000", borderWidth: 1.3,
        pointRadius: 0, fill: false, tension: 0,
      })),
      ...p.exp.map((d: Pt[]) => ({
        data: toXY(d), showLine: true, borderColor: "#000000", borderWidth: 1.6,
        borderDash: [2, 2], pointRadius: 0, fill: false, tension: 0,
      })),
    ];
    const xT = p.xTicks, yT = p.yTicks;
    const chart = new Chart(ref.current as HTMLCanvasElement, {
      type: "scatter",
      data: { datasets },
      plugins: [framePlugin as any],
      options: {
        responsive: false,
        animation: false,
        events: [],
        layout: { padding: { left: 0, top: p.padTop, right: p.padRight, bottom: 0 } },
        plugins: {
          legend: { display: false },
          tooltip: { enabled: false },
          frame: { label: p.name, labelDx: p.labelDx },
        } as any,
        scales: {
          x: {
            type: "linear", position: "bottom",
            min: xT[0], max: xT[xT.length - 1],
            afterBuildTicks: (s: any) => { s.ticks = xT.map((v: number) => ({ value: v })); },
            afterFit: (s: any) => { s.height = p.xH; },
            grid: { display: false, drawTicks: false },
            border: { display: false },
            ticks: { autoSkip: false, maxRotation: 0, padding: 13, color: "#000", font, callback: (v: any) => String(v) },
            title: { display: true, text: "Displacement [mm]", color: "#000", font, padding: { top: 0, bottom: p.xTitlePad } },
          },
          y: {
            type: "linear", position: "left",
            min: yT[0], max: yT[yT.length - 1],
            afterBuildTicks: (s: any) => { s.ticks = yT.map((v: number) => ({ value: v })); },
            afterFit: (s: any) => { s.width = p.yW; },
            grid: { display: false, drawTicks: false },
            border: { display: false },
            ticks: { autoSkip: false, padding: 16, color: "#000", font, callback: (v: any) => String(v) },
            title: { display: true, text: "Horizontal force [kN]", color: "#000", font, padding: { top: p.yTitlePad, bottom: 0 } },
          },
        },
      } as any,
    });
    return () => chart.destroy();
  }, [p]);
  return (
    <canvas ref={ref} width={p.w} height={p.h}
      style={{ position: "absolute", left: p.left, top: p.top, width: p.w, height: p.h }} />
  );
}

export default function App() {
  const legendFont = `26px ${FONT}`;
  return (
    <div style={{ position: "absolute", left: 0, top: 0, width: 1185, height: 943, background: "#fff", overflow: "hidden" }}>
      <div style={{ position: "absolute", left: 354, top: 8, font: legendFont, lineHeight: "30px", color: "#000" }}>Experimental</div>
      <div style={{ position: "absolute", left: 505, top: 23, width: 80, borderTop: "2px dotted #000" }} />
      <div style={{ position: "absolute", left: 683, top: 8, font: legendFont, lineHeight: "30px", color: "#000" }}>Numerical</div>
      <div style={{ position: "absolute", left: 822, top: 22, width: 63, height: 2, background: "#ff0000" }} />
      {panels.map((p) => <Panel key={p.name} p={p} />)}
    </div>
  );
}
